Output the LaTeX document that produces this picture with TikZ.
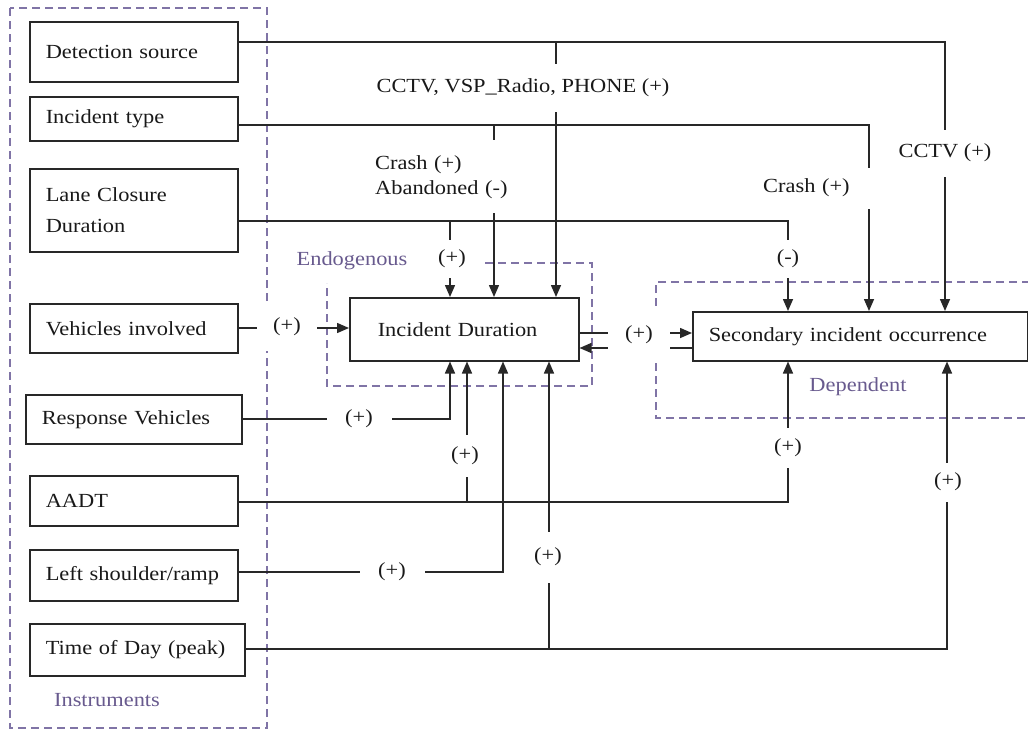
\documentclass[tikz,border=0pt]{standalone}
\usepackage{fontspec}
\setmainfont{Liberation Serif}[FakeStretch=1.12]
\usetikzlibrary{arrows.meta}

\definecolor{ink}{RGB}{40,40,40}
\definecolor{txt}{RGB}{25,25,25}
\definecolor{frame}{RGB}{128,116,166}
\definecolor{framelabel}{RGB}{104,90,142}

\begin{document}
\begin{tikzpicture}[x=1pt,y=-1pt,
  every node/.style={font=\fontsize{20}{25}\selectfont, text=txt},
  ibox/.style={draw=ink, line width=1.5pt, rectangle, anchor=north west,
               inner xsep=16pt, inner ysep=0pt, align=left},
  wire/.style={draw=ink, line width=1.5pt},
  arr/.style={wire, -{Triangle[length=12pt,width=10pt]}},
  tag/.style={fill=white, inner sep=0pt},
  zone/.style={draw=frame, line width=1.8pt, dash pattern=on 8pt off 5pt},
  zonelabel/.style={text=framelabel}
]
\useasboundingbox (0,0) rectangle (1028,731);

% ---- dashed grouping frames ----
\draw[zone] (10,8) rectangle (267,728);
\draw[zone] (485,263) -| (592,386) -| (327,283);
\draw[zone] (1030,282) -- (656,282) -- (656,418) -- (1030,418);

\node[zonelabel] (instr) at (107,700) {Instruments};
\node[zonelabel] (endo)  at (352,261) {Endogenous};
\node[zonelabel] (dep)   at (858,387) {Dependent};

% ---- explanatory variables ----
\node[ibox, text width=176pt, minimum height=60pt] (det)   at (29,21)  {\mbox{Detection source}\\[4pt]};
\node[ibox, text width=176pt, minimum height=44pt] (itype) at (29,96)  {\mbox{Incident type}};
\node[ibox, text width=176pt, minimum height=83pt] (lane)  at (29,168) {Lane Closure\\[6pt]Duration};
\node[ibox, text width=176pt, minimum height=49pt] (veh)   at (29,303) {\mbox{Vehicles involved}};
\node[ibox, text width=184pt, minimum height=49pt] (resp)  at (25,394) {\mbox{Response Vehicles}};
\node[ibox, text width=176pt, minimum height=50pt] (aadt)  at (29,475) {AADT};
\node[ibox, text width=176pt, minimum height=51pt] (lsh)   at (29,549) {\mbox{Left shoulder/ramp}};
\node[ibox, text width=183pt, minimum height=52pt] (tod)   at (29,623) {\mbox{Time of Day (peak)}};

% ---- endogenous and dependent variables ----
\node[ibox, inner xsep=28pt, text width=173pt, minimum height=63pt] (id) at (349,297) {\mbox{Incident Duration}};
\node[ibox, text width=303pt, minimum height=49pt] (sec) at (692,311) {\mbox{Secondary incident occurrence}};

% ---- routing points ----
\coordinate (cDet)  at (945,42);
\coordinate (jDet)  at (556,42);
\coordinate (cTyp)  at (869,125);
\coordinate (jTyp)  at (494,125);
\coordinate (cLane) at (788,221);
\coordinate (jLane) at (450,221);
\coordinate (yVeh)  at (0,328);
\coordinate (yUp)   at (0,333);
\coordinate (yLow)  at (0,348);
\coordinate (cResp) at (450,419);
\coordinate (cAadt) at (788,502);
\coordinate (jAadt) at (467,502);
\coordinate (cLsh)  at (503,572);
\coordinate (cTod)  at (947,649);
\coordinate (jTod)  at (549,649);

% ---- connectors ----
\draw[arr] (det.east |- cDet) -- (cDet) -- (cDet |- sec.north);
\draw[arr] (jDet) -- (jDet |- id.north);

\draw[arr] (itype.east |- cTyp) -- (cTyp) -- (cTyp |- sec.north);
\draw[arr] (jTyp) -- (jTyp |- id.north);

\draw[arr] (lane.east |- cLane) -- (cLane) -- (cLane |- sec.north);
\draw[arr] (jLane) -- (jLane |- id.north);

\draw[arr] (veh.east |- yVeh) -- (id.west |- yVeh);

\draw[arr] (id.east |- yUp) -- (sec.west |- yUp);
\draw[arr] (sec.west |- yLow) -- (id.east |- yLow);

\draw[arr] (resp.east |- cResp) -- (cResp) -- (cResp |- id.south);

\draw[arr] (aadt.east |- cAadt) -- (cAadt) -- (cAadt |- sec.south);
\draw[arr] (jAadt) -- (jAadt |- id.south);

\draw[arr] (lsh.east |- cLsh) -- (cLsh) -- (cLsh |- id.south);

\draw[arr] (tod.east |- cTod) -- (cTod) -- (cTod |- sec.south);
\draw[arr] (jTod) -- (jTod |- id.south);

% ---- effect labels ----
\node[tag, minimum width=306pt, minimum height=48pt] (lDet) at (523,88) {CCTV, VSP\_Radio, PHONE (+)};
\node[tag, minimum width=100pt, minimum height=47pt] (lCctv) at (945,153) {CCTV (+)};
\node[tag, anchor=north west, inner xsep=5pt, text width=150pt, minimum height=73pt, align=left]
      (lTyp) at (370,140) {Crash (+)\\Abandoned (-)};
\node[tag, anchor=west, inner xsep=6pt, text width=108pt, minimum height=41pt, align=left]
      (lCrash) at (757,188) {Crash (+)};
\node[tag, minimum width=34pt, minimum height=38pt] (lLaneA) at (452,259) {(+)};
\node[tag, minimum width=34pt, minimum height=38pt] (lLaneB) at (788,259) {(-)};
\node[tag, minimum width=60pt, minimum height=47pt] (lVeh)  at (287,327) {(+)};
\node[tag, minimum width=62pt, minimum height=54pt] (lLoop) at (639,335) {(+)};
\node[tag, minimum width=65pt, minimum height=40pt] (lResp) at (359,419) {(+)};
\node[tag, minimum width=36pt, minimum height=42pt] (lAadtA) at (465,456) {(+)};
\node[tag, minimum width=36pt, minimum height=40pt] (lAadtB) at (788,448) {(+)};
\node[tag, minimum width=65pt, minimum height=40pt] (lLsh)  at (392,572) {(+)};
\node[tag, minimum width=36pt, minimum height=51pt] (lTodA) at (548,557) {(+)};
\node[tag, minimum width=36pt, minimum height=39pt] (lTodB) at (948,482) {(+)};
\end{tikzpicture}
\end{document}
